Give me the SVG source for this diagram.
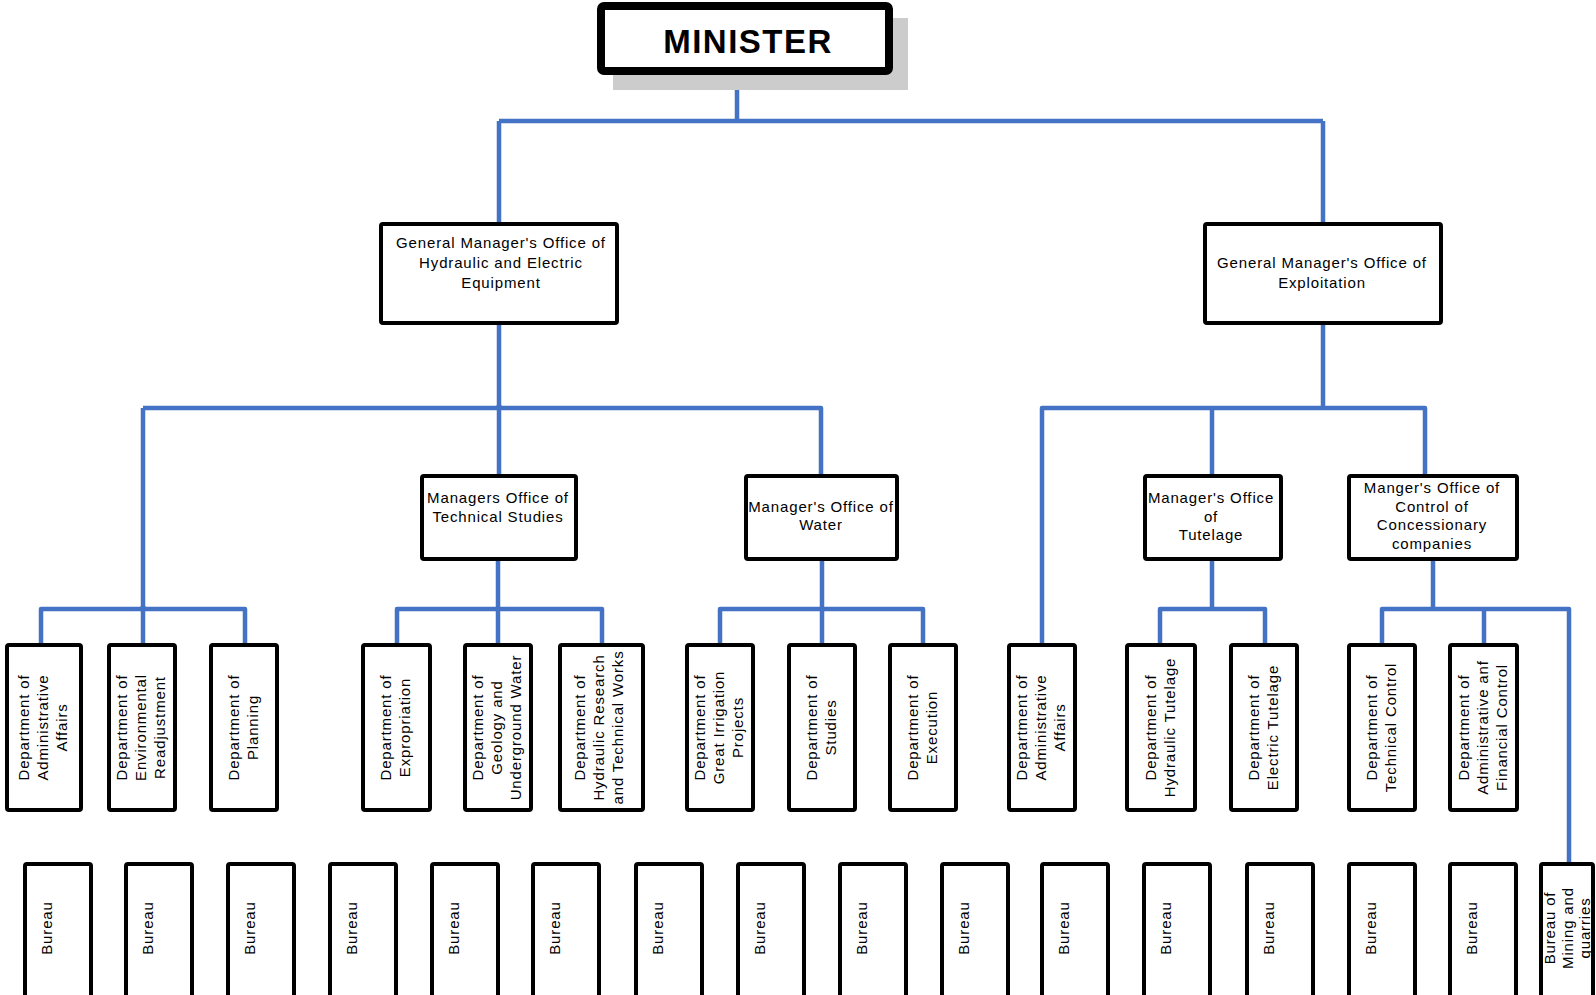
<svg xmlns="http://www.w3.org/2000/svg" width="1596" height="995" viewBox="0 0 1596 995">
<style>
.bx{fill:#fff;stroke:#000;stroke-width:4;rx:2}
.mn{fill:#fff;stroke:#000;stroke-width:8;rx:3}
.t{font-family:"Liberation Sans",Arial,sans-serif;font-size:15px;letter-spacing:0.85px;fill:#000;text-anchor:middle}
.tb{font-family:"Liberation Sans",Arial,sans-serif;font-size:33px;font-weight:bold;letter-spacing:1.5px;fill:#000;text-anchor:middle}
.c{fill:none;stroke:#4472C4;stroke-width:4.5;stroke-linejoin:round}
.j{fill:#4472C4}
</style>
<rect width="1596" height="995" fill="#fff"/>
<g id="connectors">
<path class="c" d="M737,75 V121 M499,121 H1323 M499,121 V222 M1323,121 V222"/>
<path class="c" d="M499,325 V474 M143,408 H821 V474 M143,408 V609 M41,643 V609 H245 V643 M143,609 V643"/>
<path class="c" d="M498,561 V643 M397,643 V609 H602 V643"/>
<path class="c" d="M822,561 V643 M720,643 V609 H923 V643"/>
<path class="c" d="M1323,325 V408 M1042,643 V408 H1425 V474 M1212,408 V474"/>
<path class="c" d="M1212,561 V609 M1160,643 V609 H1265 V643"/>
<path class="c" d="M1433,561 V609 M1382,643 V609 H1569 V862 M1484,609 V643"/>
<path class="j" d="M499,403 l5,5 h-10 z M143,604 l5,5 h-10 z M498,605 l5,5 h-10 z M822,605 l5,5 h-10 z"/>
</g>
<g id="minister">
<rect x="613" y="18" width="295" height="72" fill="#cccccc"/>
<rect class="mn" x="601" y="6" width="288" height="65"/>
<text class="tb" x="748" y="53">MINISTER</text>
</g>
<g id="gm-hydraulic">
<rect class="bx" x="381" y="224" width="236" height="99"/>
<text class="t" x="501" y="248">General Manager's Office of</text>
<text class="t" x="501" y="268">Hydraulic and Electric</text>
<text class="t" x="501" y="288">Equipment</text>
</g>
<g id="gm-exploitation">
<rect class="bx" x="1205" y="224" width="236" height="99"/>
<text class="t" x="1322" y="268">General Manager's Office of</text>
<text class="t" x="1322" y="288">Exploitation</text>
</g>
<g id="mo-technical">
<rect class="bx" x="422" y="476" width="154" height="83"/>
<text class="t" x="498" y="503">Managers Office of</text>
<text class="t" x="498" y="522">Technical Studies</text>
</g>
<g id="mo-water">
<rect class="bx" x="746" y="476" width="151" height="83"/>
<text class="t" x="821" y="512">Manager's Office of</text>
<text class="t" x="821" y="530">Water</text>
</g>
<g id="mo-tutelage">
<rect class="bx" x="1145" y="476" width="136" height="83"/>
<text class="t" x="1211" y="503">Manager's Office</text>
<text class="t" x="1211" y="522">of</text>
<text class="t" x="1211" y="540">Tutelage</text>
</g>
<g id="mo-concessionary">
<rect class="bx" x="1349" y="476" width="168" height="83"/>
<text class="t" x="1432" y="493">Manger's Office of</text>
<text class="t" x="1432" y="512">Control of</text>
<text class="t" x="1432" y="530">Concessionary</text>
<text class="t" x="1432" y="549">companies</text>
</g>
<g id="d1"><rect class="bx" x="7" y="645" width="74" height="165"/>
<g transform="translate(44,727.5) rotate(-90)"><text class="t" y="-15">Department of</text><text class="t" y="4">Administrative</text><text class="t" y="23">Affairs</text></g></g>
<g id="d2"><rect class="bx" x="109" y="645" width="66" height="165"/>
<g transform="translate(142,727.5) rotate(-90)"><text class="t" y="-15">Department of</text><text class="t" y="4">Environmental</text><text class="t" y="23">Readjustment</text></g></g>
<g id="d3"><rect class="bx" x="211" y="645" width="66" height="165"/>
<g transform="translate(244,727.5) rotate(-90)"><text class="t" y="-5.5">Department of</text><text class="t" y="13.5">Planning</text></g></g>
<g id="d4"><rect class="bx" x="363" y="645" width="67" height="165"/>
<g transform="translate(396.5,727.5) rotate(-90)"><text class="t" y="-5.5">Department of</text><text class="t" y="13.5">Expropriation</text></g></g>
<g id="d5"><rect class="bx" x="465" y="645" width="66" height="165"/>
<g transform="translate(498,727.5) rotate(-90)"><text class="t" y="-15">Department of</text><text class="t" y="4">Geology and</text><text class="t" y="23">Underground Water</text></g></g>
<g id="d6"><rect class="bx" x="560" y="645" width="83" height="165"/>
<g transform="translate(600,727.5) rotate(-90)"><text class="t" y="-15">Department of</text><text class="t" y="4">Hydraulic Research</text><text class="t" y="23">and Technical Works</text></g></g>
<g id="d7"><rect class="bx" x="687" y="645" width="66" height="165"/>
<g transform="translate(720,727.5) rotate(-90)"><text class="t" y="-15">Department of</text><text class="t" y="4">Great Irrigation</text><text class="t" y="23">Projects</text></g></g>
<g id="d8"><rect class="bx" x="789" y="645" width="66" height="165"/>
<g transform="translate(822,727.5) rotate(-90)"><text class="t" y="-5.5">Department of</text><text class="t" y="13.5">Studies</text></g></g>
<g id="d9"><rect class="bx" x="890" y="645" width="66" height="165"/>
<g transform="translate(923,727.5) rotate(-90)"><text class="t" y="-5.5">Department of</text><text class="t" y="13.5">Execution</text></g></g>
<g id="d10"><rect class="bx" x="1009" y="645" width="66" height="165"/>
<g transform="translate(1042,727.5) rotate(-90)"><text class="t" y="-15">Department of</text><text class="t" y="4">Administrative</text><text class="t" y="23">Affairs</text></g></g>
<g id="d11"><rect class="bx" x="1127" y="645" width="68" height="165"/>
<g transform="translate(1161,727.5) rotate(-90)"><text class="t" y="-5.5">Department of</text><text class="t" y="13.5">Hydraulic Tutelage</text></g></g>
<g id="d12"><rect class="bx" x="1231" y="645" width="66" height="165"/>
<g transform="translate(1264,727.5) rotate(-90)"><text class="t" y="-5.5">Department of</text><text class="t" y="13.5">Electric Tutelage</text></g></g>
<g id="d13"><rect class="bx" x="1349" y="645" width="66" height="165"/>
<g transform="translate(1382,727.5) rotate(-90)"><text class="t" y="-5.5">Department of</text><text class="t" y="13.5">Technical Control</text></g></g>
<g id="d14"><rect class="bx" x="1450" y="645" width="67" height="165"/>
<g transform="translate(1483.5,727.5) rotate(-90)"><text class="t" y="-15">Department of</text><text class="t" y="4">Administrative anf</text><text class="t" y="23">Financial Control</text></g></g>
<g id="b1"><rect class="bx" x="25" y="864" width="66" height="200"/><text class="t" transform="translate(52,928) rotate(-90)">Bureau</text></g>
<g id="b2"><rect class="bx" x="126" y="864" width="66" height="200"/><text class="t" transform="translate(153,928) rotate(-90)">Bureau</text></g>
<g id="b3"><rect class="bx" x="228" y="864" width="66" height="200"/><text class="t" transform="translate(255,928) rotate(-90)">Bureau</text></g>
<g id="b4"><rect class="bx" x="330" y="864" width="66" height="200"/><text class="t" transform="translate(357,928) rotate(-90)">Bureau</text></g>
<g id="b5"><rect class="bx" x="432" y="864" width="66" height="200"/><text class="t" transform="translate(459,928) rotate(-90)">Bureau</text></g>
<g id="b6"><rect class="bx" x="533" y="864" width="66" height="200"/><text class="t" transform="translate(560,928) rotate(-90)">Bureau</text></g>
<g id="b7"><rect class="bx" x="636" y="864" width="66" height="200"/><text class="t" transform="translate(663,928) rotate(-90)">Bureau</text></g>
<g id="b8"><rect class="bx" x="738" y="864" width="66" height="200"/><text class="t" transform="translate(765,928) rotate(-90)">Bureau</text></g>
<g id="b9"><rect class="bx" x="840" y="864" width="66" height="200"/><text class="t" transform="translate(867,928) rotate(-90)">Bureau</text></g>
<g id="b10"><rect class="bx" x="942" y="864" width="66" height="200"/><text class="t" transform="translate(969,928) rotate(-90)">Bureau</text></g>
<g id="b11"><rect class="bx" x="1042" y="864" width="66" height="200"/><text class="t" transform="translate(1069,928) rotate(-90)">Bureau</text></g>
<g id="b12"><rect class="bx" x="1144" y="864" width="66" height="200"/><text class="t" transform="translate(1171,928) rotate(-90)">Bureau</text></g>
<g id="b13"><rect class="bx" x="1247" y="864" width="66" height="200"/><text class="t" transform="translate(1274,928) rotate(-90)">Bureau</text></g>
<g id="b14"><rect class="bx" x="1349" y="864" width="66" height="200"/><text class="t" transform="translate(1376,928) rotate(-90)">Bureau</text></g>
<g id="b15"><rect class="bx" x="1450" y="864" width="66" height="200"/><text class="t" transform="translate(1477,928) rotate(-90)">Bureau</text></g>
<g id="b16"><rect class="bx" x="1541" y="864" width="52" height="200"/>
<g transform="translate(1541,928) rotate(-90)"><text class="t" y="14">Bureau of</text><text class="t" y="32">Mining and</text><text class="t" y="49">quarries</text></g></g>
</svg>
